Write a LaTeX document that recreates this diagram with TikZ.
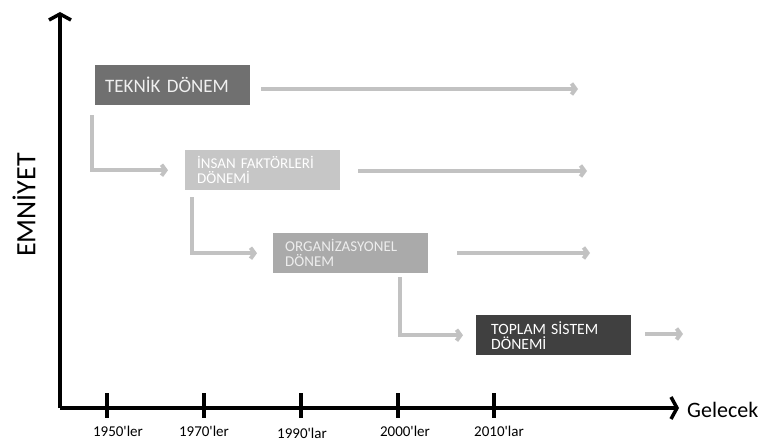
\documentclass[tikz,border=0pt]{standalone}
\usepackage{fontspec}
\setmainfont{Carlito}
\usepackage{tikz}
\usetikzlibrary{arrows.meta}
\usetikzlibrary{positioning}
\definecolor{teknikgray}{HTML}{707070}
\definecolor{insangray}{HTML}{C6C6C6}
\definecolor{orggray}{HTML}{AAAAAA}
\definecolor{toplamgray}{HTML}{404040}
\definecolor{flowgray}{HTML}{C2C2C2}
\tikzset{x=1pt, y=-1pt,
	period/.style={
		anchor=north west,
		minimum width=155pt,
		minimum height=40pt,
		inner xsep=10pt,
		text width=135pt,
		align=left,
		text=white,
		font=\fontsize{15}{15}\selectfont},
	flow/.style={
		draw=flowgray,
		line width=4pt,
		-{Straight Barb[length=4pt,width=11pt]}},
	axis/.style={
		draw,
		line width=3.5pt,
		-{Straight Barb[length=6pt,width=22pt]}},
	tick/.style={
		draw,
		line width=3.5pt},
	year/.style={
		font=\fontsize{15}{17}\selectfont}
}
\begin{document}
\begin{tikzpicture}
			\useasboundingbox (0,0) rectangle (760,441);
			\coordinate (o) at (60,408);
			\coordinate (ytop) at (60,12);
			\coordinate (xend) at (679,408);
			\draw[axis] (o) -- (ytop);
			\draw[axis] (o) -- (xend);
			\node[rotate=90, font=\fontsize{28}{30}\selectfont] (emn) at (24,205) {EMNİYET};
			\node[anchor=west, font=\fontsize{22}{24}\selectfont, inner sep=0pt] (gel) at (687,410) {Gelecek};
			\node[period, fill=teknikgray, font=\fontsize{19}{21}\selectfont, text=white!94!black] (tek) at (95,65) {TEKNİK DÖNEM};
			\node[period, fill=insangray, inner xsep=12pt, text width=131pt] (ins) at (185,150) {İNSAN FAKTÖRLERİ\\DÖNEMİ};
			\node[period, fill=orggray, inner xsep=12pt, text width=131pt, text=white!93!black] (org) at (273,233) {ORGANİZASYONEL\\DÖNEM};
			\node[period, fill=toplamgray, inner xsep=15pt, text width=125pt, font=\fontsize{15.7}{15}\selectfont] (top) at (476,315) {TOPLAM SİSTEM\\DÖNEMİ};
			\coordinate (tekend) at (578,89);
			\coordinate (insend) at (587,171);
			\coordinate (orgend) at (590,253);
			\coordinate (topend) at (683,334);
			\draw[flow] ([xshift=11pt]tek.east |- tekend) -- (tekend);
			\draw[flow] ([xshift=18pt]ins.east |- insend) -- (insend);
			\draw[flow] ([xshift=29pt]org.east |- orgend) -- (orgend);
			\draw[flow] ([xshift=14pt]top.east |- topend) -- (topend);
			\draw[flow] ([xshift=-3pt,yshift=-10pt]tek.south west) |- ([xshift=-17pt]ins.west);
			\draw[flow] ([xshift=7pt,yshift=-7pt]ins.south west) |- ([xshift=-16pt]org.west);
			\draw[flow] ([xshift=127pt,yshift=-4pt]org.south west) |- ([xshift=-13pt]top.west);
			\foreach \x/\lab/\lx/\ly in {107/1950\textquotesingle ler/118/431, 204/1970\textquotesingle ler/204/431, 301/1990\textquotesingle lar/302/433, 398/2000\textquotesingle ler/405/431, 494/2010\textquotesingle lar/499/431} {
				\draw[tick] (\x,393) -- (\x,418);
				\node[year] (y\x) at (\lx,\ly) {\lab};
			}
		\end{tikzpicture}
\end{document}
